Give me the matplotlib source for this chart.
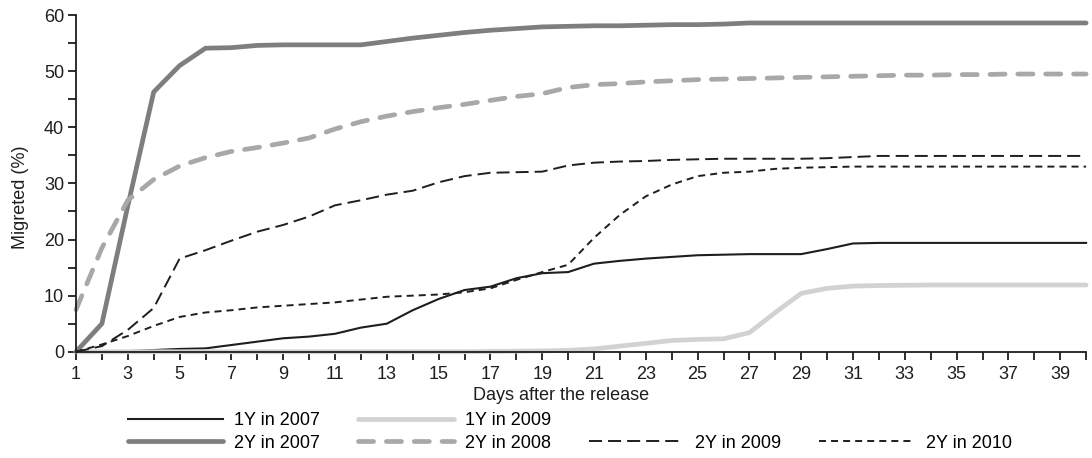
import matplotlib
matplotlib.use("Agg")
import matplotlib.pyplot as plt
from matplotlib.lines import Line2D
from matplotlib.ticker import MultipleLocator, FixedLocator

plt.rcParams['font.family'] = ['Liberation Sans', 'DejaVu Sans']

days = list(range(1, 41))

y1_2007 = [0, 0, 0.1, 0.3, 0.5, 0.6, 1.2, 1.8, 2.4, 2.7, 3.2, 4.3, 5.0, 7.4, 9.4, 11.0,
           11.6, 13.1, 14.0, 14.2, 15.7, 16.2, 16.6, 16.9, 17.2, 17.3, 17.4, 17.4, 17.4,
           18.3, 19.3, 19.4, 19.4, 19.4, 19.4, 19.4, 19.4, 19.4, 19.4, 19.4]
y1_2009 = [0, 0, 0, 0, 0, 0, 0, 0, 0, 0, 0, 0, 0, 0, 0, 0, 0.05, 0.1, 0.15, 0.25, 0.5,
           1.0, 1.5, 2.0, 2.2, 2.3, 3.4, 7.0, 10.4, 11.3, 11.7, 11.8, 11.85, 11.9, 11.9,
           11.9, 11.9, 11.9, 11.9, 11.9]
y2_2007 = [0, 5.0, 26.0, 46.3, 51.0, 54.1, 54.2, 54.6, 54.7, 54.7, 54.7, 54.7, 55.3,
           55.9, 56.4, 56.9, 57.3, 57.6, 57.9, 58.0, 58.1, 58.1, 58.2, 58.3, 58.3, 58.4,
           58.6, 58.6, 58.6, 58.6, 58.6, 58.6, 58.6, 58.6, 58.6, 58.6, 58.6, 58.6, 58.6,
           58.6]
y2_2008 = [7.5, 18.5, 27.0, 30.7, 33.1, 34.6, 35.7, 36.4, 37.2, 38.1, 39.7, 41.0, 42.0,
           42.8, 43.5, 44.1, 44.8, 45.5, 46.0, 47.1, 47.6, 47.8, 48.1, 48.3, 48.5, 48.6,
           48.7, 48.8, 48.9, 49.0, 49.1, 49.2, 49.3, 49.3, 49.4, 49.4, 49.5, 49.5, 49.5,
           49.5]
y2_2009 = [0, 1.0, 3.9, 7.8, 16.6, 18.1, 19.8, 21.4, 22.6, 24.1, 26.1, 27.0, 28.0, 28.7,
           30.2, 31.3, 31.9, 32.0, 32.1, 33.2, 33.7, 33.9, 34.0, 34.2, 34.3, 34.4, 34.4,
           34.4, 34.4, 34.5, 34.7, 34.9, 34.9, 34.9, 34.9, 34.9, 34.9, 34.9, 34.9, 34.9]
y2_2010 = [0, 1.3, 2.8, 4.6, 6.2, 7.0, 7.4, 7.9, 8.2, 8.5, 8.8, 9.3, 9.8, 10.0, 10.2,
           10.6, 11.3, 12.8, 14.2, 15.5, 20.3, 24.4, 27.7, 29.8, 31.3, 31.9, 32.1, 32.6,
           32.8, 32.9, 33.0, 33.0, 33.0, 33.0, 33.0, 33.0, 33.0, 33.0, 33.0, 33.0]

black = '#1e1e1e'

fig = plt.figure(figsize=(10.92, 4.58), dpi=100)
ax = fig.add_axes([0.0696, 0.232, 0.925, 0.735])

l1, = ax.plot(days, y1_2007, color=black, lw=1.5, label='1Y in 2007', clip_on=False)
l2, = ax.plot(days, y1_2009, color='#d2d2d2', lw=3.4, label='1Y in 2009', clip_on=False,
              solid_capstyle='round')
l3, = ax.plot(days, y2_2007, color='#7e7e81', lw=3.4, label='2Y in 2007', clip_on=False,
              solid_capstyle='round')
l4, = ax.plot(days, y2_2008, color='#a8a8aa', lw=3.4, label='2Y in 2008', clip_on=False,
              dashes=(3.2, 2.7), dash_capstyle='round')
l5, = ax.plot(days, y2_2009, color=black, lw=1.4, label='2Y in 2009', clip_on=False,
              dashes=(6.7, 3.1))
l6, = ax.plot(days, y2_2010, color=black, lw=1.4, label='2Y in 2010', clip_on=False,
              dashes=(3.6, 2.6))

ax.set_xlim(1, 40)
ax.set_ylim(0, 60)
ax.xaxis.set_major_locator(FixedLocator(range(1, 41, 2)))
ax.xaxis.set_minor_locator(FixedLocator(range(2, 41, 2)))
ax.yaxis.set_major_locator(MultipleLocator(10))
ax.yaxis.set_minor_locator(MultipleLocator(5))

for s in ['top', 'right']:
    ax.spines[s].set_visible(False)
for s in ['left', 'bottom']:
    ax.spines[s].set_linewidth(1.3)
    ax.spines[s].set_color(black)

ax.tick_params(which='both', direction='out', length=5.5, width=1.3, color=black,
               labelsize=13, labelcolor=black)
ax.tick_params(axis='x', pad=5)
ax.tick_params(axis='y', pad=3)

ax.set_xlabel('Days after the release', fontsize=13, color=black)
ax.set_ylabel('Migreted (%)', fontsize=13, color=black)
ax.xaxis.set_label_coords(0.48, -0.105)
ax.yaxis.set_label_coords(-0.047, 0.46)

# blank entries keep the single 2Y items on the second legend row
blank = Line2D([], [], alpha=0)
handles = [l1, l3, l2, l4, blank, l5, blank, l6]
labels = ['1Y in 2007', '2Y in 2007', '1Y in 2009', '2Y in 2008', '', '2Y in 2009', '',
          '2Y in 2010']
fig.legend(handles, labels, ncol=4, loc='upper left', bbox_to_anchor=(0.117, 0.1),
           frameon=False, fontsize=13, handlelength=5.3, handletextpad=0.6,
           columnspacing=2.1, labelspacing=0.3, borderpad=0, borderaxespad=0)

fig.savefig('out.png', dpi=100)
